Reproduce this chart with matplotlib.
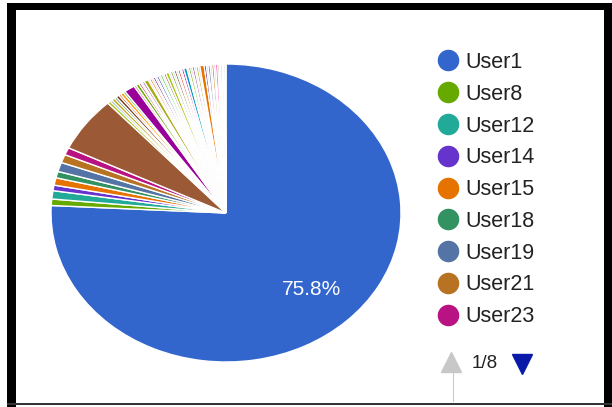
import matplotlib
matplotlib.use("Agg")
import matplotlib.pyplot as plt
from matplotlib.lines import Line2D
from matplotlib.patches import Rectangle

plt.rcParams['font.family'] = ['Liberation Sans', 'DejaVu Sans']

# ---- data (percent share per user, clockwise order from 12 o'clock) ----
users = [1, 8, 12, 14, 15, 18, 19, 21, 23, 25,
         26, 27, 29, 30, 31, 33, 34, 35, 36,
         38, 39, 40, 41, 42, 44, 45, 46, 47, 48,
         50, 51, 52, 53, 55, 56, 57, 58, 59, 61,
         62, 63, 64, 65, 67, 68, 69, 70, 71, 73,
         74, 75, 76, 77, 79, 80, 81, 82, 83, 85,
         86, 87, 88, 89, 91, 92, 93]
values = [75.8, 0.7, 0.9, 0.6, 0.8, 0.7, 1.0, 0.9, 0.8, 6.0,
          0.3, 0.2, 0.3, 0.2, 0.3, 0.2, 0.3, 0.2, 1.0,
          0.2, 0.3, 0.2, 0.15, 0.2, 0.4, 0.15, 0.2, 0.15, 0.2,
          0.15, 0.2, 0.15, 0.2, 0.15, 0.2, 0.3, 0.15, 0.2, 0.15,
          0.2, 0.15, 0.2, 0.15, 0.2, 0.3, 0.15, 0.2, 0.15, 0.2,
          0.15, 0.2, 0.15, 0.4, 0.2, 0.15, 0.2, 0.15, 0.2, 0.15,
          0.2, 0.15, 0.1, 0.15, 0.1, 0.15, 0.1]
labels = [f"User{u}" for u in users]
legend_page = "1/8"
legend_per_page = 9

palette = ["#3366cc", "#dc3912", "#ff9900", "#109618", "#990099", "#0099c6",
           "#dd4477", "#66aa00", "#b82e2e", "#316395", "#994499", "#22aa99",
           "#aaaa11", "#6633cc", "#e67300", "#8b0707", "#651067", "#329262",
           "#5574a6", "#3b3eac", "#b77322", "#16d620", "#b91383", "#f4359e",
           "#9c5935", "#a9c413", "#2a778d", "#668d1c", "#bea413", "#0c5922",
           "#743411"]
colors = [palette[(u - 1) % len(palette)] for u in users]

W, H = 612, 407
fig = plt.figure(figsize=(W / 100, H / 100), dpi=100)
fig.patch.set_facecolor("white")

def px(x0, y0, w, h):
    return [x0 / W, 1 - (y0 + h) / H, w / W, h / H]

# pie axes (stretched like the reference)
ax = fig.add_axes(px(51, 64, 350, 298))
wedges, texts, autotexts = ax.pie(
    values, colors=colors, startangle=90, counterclock=False,
    wedgeprops=dict(edgecolor="white", linewidth=1.0),
    autopct=lambda p: f"{p:.1f}%" if p > 50 else "",
    pctdistance=0.71,
    textprops=dict(color="white", fontsize=15))
ax.set_aspect("auto")
ax.set_xlim(-1.0, 1.0)
ax.set_ylim(-1.0, 1.0)
ax.axis("off")

# legend (first page)
handles = [Line2D([], [], marker="o", ls="", markersize=14.5,
                  markerfacecolor=c, markeredgecolor=c)
           for c in colors[:legend_per_page]]
leg = fig.legend(handles, labels[:legend_per_page], loc="upper left",
                 bbox_to_anchor=(436 / W, 1 - 52 / H), frameon=False,
                 fontsize=15.5, labelspacing=0.50, handletextpad=0.25,
                 handlelength=1.1, borderaxespad=0, borderpad=0)
for t in leg.get_texts():
    t.set_color("#222222")

# pagination
fig.add_artist(Line2D([451 / W], [1 - 362 / H], marker="^", ls="",
                      markersize=14, color="#c8c8c8", transform=fig.transFigure))
fig.text(472 / W, 1 - 363 / H, legend_page, fontsize=13.5, color="#222222",
         va="center", ha="left")
fig.add_artist(Line2D([522 / W], [1 - 364 / H], marker="v", ls="",
                      markersize=14, color="#0a1aa8", transform=fig.transFigure))
fig.add_artist(Line2D([453 / W, 453 / W], [1 - 373 / H, 1 - 401 / H],
                      color="#cccccc", lw=0.8, transform=fig.transFigure))

# black frame of the screenshot
for (x0, y0, w, h, c) in [(7, 3, 605, 7, "black"), (7, 3, 9, 404, "black"),
                          (604, 3, 8, 404, "black"), (7, 403, 605, 2, "#333333")]:
    fig.add_artist(Rectangle((x0 / W, 1 - (y0 + h) / H), w / W, h / H,
                             transform=fig.transFigure, color=c, lw=0))

fig.savefig("out.png", dpi=100)
